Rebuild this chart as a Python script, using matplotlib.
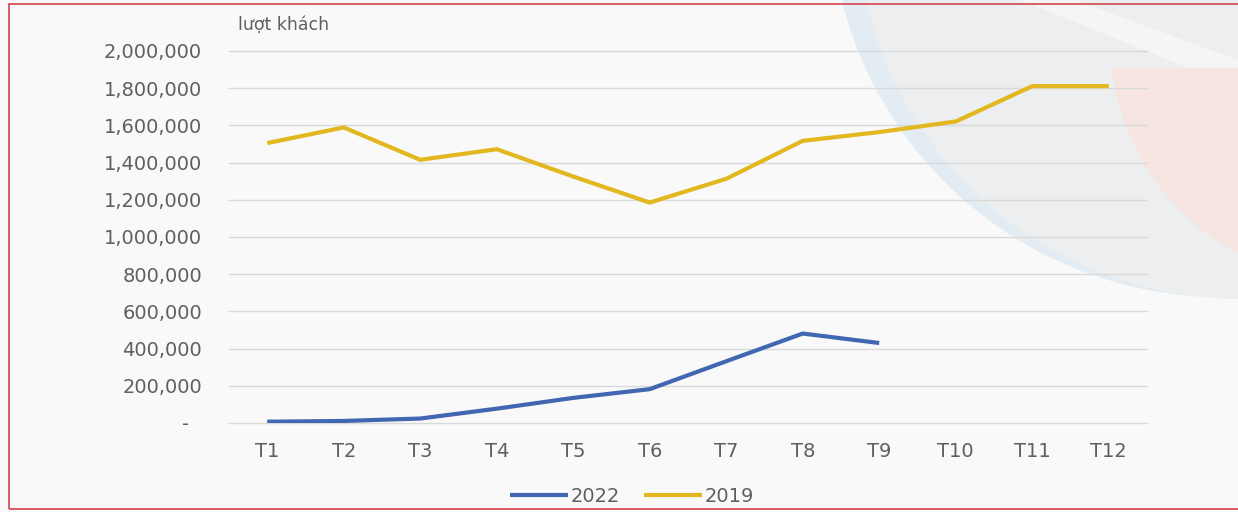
import numpy as np
import matplotlib
matplotlib.use("Agg")
import matplotlib.pyplot as plt
from matplotlib.patches import Circle, Rectangle, Polygon
from matplotlib.transforms import IdentityTransform
from matplotlib.ticker import FuncFormatter

OUTPUT_FILE = "out.png"

months = ["T1", "T2", "T3", "T4", "T5", "T6", "T7", "T8", "T9", "T10", "T11", "T12"]
visitors_2022 = [7000, 11000, 24000, 77000, 135000, 182000, 332000, 481000, 430000]
visitors_2019 = [1505000, 1589000, 1415000, 1472000, 1325000, 1185000,
                 1313000, 1517000, 1564000, 1621000, 1811000, 1811000]
y_ticks = [0, 200000, 400000, 600000, 800000, 1000000,
           1200000, 1400000, 1600000, 1800000, 2000000]

W, H = 1238, 512
TEXT = "#5f5f5f"

fig = plt.figure(figsize=(W / 100, H / 100), dpi=100)
fig.patch.set_facecolor("#f9f9f9")


def px(x, y):
    # pixel coords measured from the top-left corner -> figure fraction
    return x / W, (H - y) / H


# decorative background shapes (upper right), drawn in display pixels
blue = Circle((1222, H + 95), 392, facecolor="#e2ecf2", edgecolor="none", zorder=0,
              transform=IdentityTransform())
grey = Circle((1240, H + 85), 384, facecolor="#eceeef", edgecolor="none", zorder=0,
              transform=IdentityTransform())
fig.add_artist(blue)
fig.add_artist(grey)

sweep = Polygon([px(1020, 0), px(1075, 0), px(1238, 60), px(1238, 88)],
                closed=True, facecolor="#f5f5f5", edgecolor="none", zorder=0,
                transform=fig.transFigure)
fig.add_artist(sweep)

pink = Circle((1352, H - 40), 242, facecolor="#f6e5e1", edgecolor="none", zorder=0,
              transform=IdentityTransform())
clip = Rectangle((0, 0), W, H - 68, transform=IdentityTransform())
pink.set_clip_path(clip)
fig.add_artist(pink)

# thin red frame
frame = Rectangle(px(9, 509), (1240 - 9) / W, (509 - 4) / H, transform=fig.transFigure,
                  facecolor="none", edgecolor="#d9505a", linewidth=1.3, zorder=1)
fig.add_artist(frame)

left, top = px(229, 51)
right, bottom = px(1147, 423)
ax = fig.add_axes([left, bottom, right - left, top - bottom])
ax.set_facecolor("none")

x = np.arange(len(months))
ax.plot(x[:len(visitors_2022)], visitors_2022, color="#4267b2", linewidth=3,
        solid_joinstyle="round", solid_capstyle="butt", label="2022", zorder=3)
ax.plot(x, visitors_2019, color="#e3b71f", linewidth=3,
        solid_joinstyle="round", solid_capstyle="butt", label="2019", zorder=3)

ax.set_xlim(-0.5, len(months) - 0.5)
ax.set_ylim(0, 2000000)
ax.set_xticks(x)
ax.set_xticklabels(months)
ax.set_yticks(y_ticks)
ax.yaxis.set_major_formatter(FuncFormatter(lambda v, p: f"{v:,.0f}" if v else "-  "))

for s in ax.spines.values():
    s.set_visible(False)
ax.grid(axis="y", color="#d9d9d9", linewidth=1.0, zorder=1)
ax.set_axisbelow(True)
# keep the 0 and 2,000,000 lines whole at the axes edges
for gl in ax.get_ygridlines():
    gl.set_clip_on(False)
ax.tick_params(axis="both", length=0, labelsize=14, labelcolor=TEXT)
ax.tick_params(axis="y", pad=19.5)
ax.tick_params(axis="x", pad=14)

fig.text(*px(238, 25), "lượt khách", ha="left", va="center", fontsize=12.5, color=TEXT)

fig.legend(loc="center", bbox_to_anchor=px(632, 496), ncol=2, frameon=False,
           fontsize=14, labelcolor=TEXT, handlelength=3.0, handletextpad=0.15,
           columnspacing=1.2)

plt.savefig(OUTPUT_FILE, dpi=100, facecolor=fig.get_facecolor())
